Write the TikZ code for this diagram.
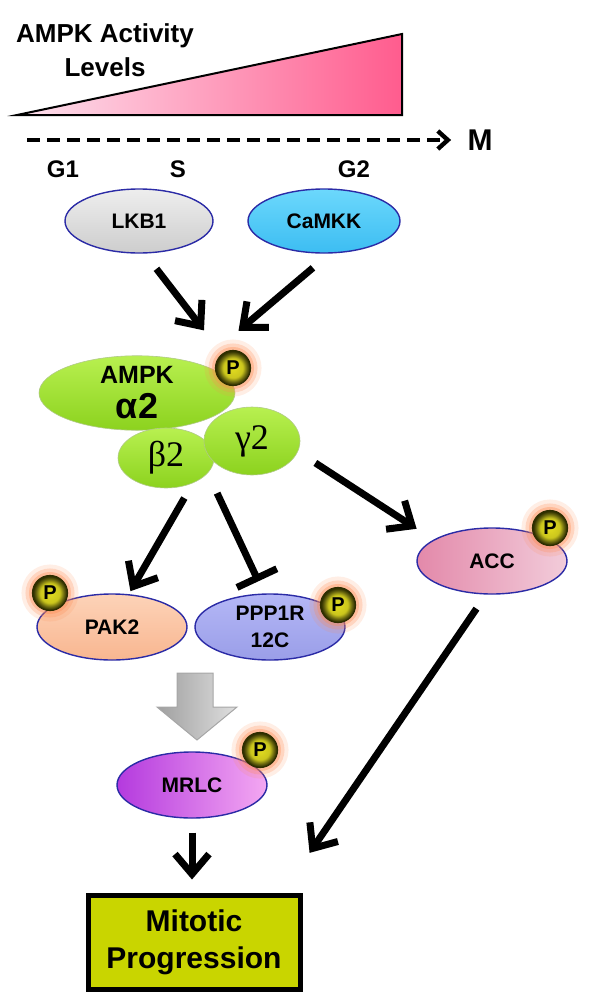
\documentclass[tikz,border=0pt]{standalone}
\usepackage{fontspec}
\setmainfont{Liberation Sans}
\newfontfamily\grkfont{Liberation Serif}
\usetikzlibrary{arrows.meta,shapes.geometric}

\definecolor{rimblue}{HTML}{2B2BA6}
\definecolor{lkbtop}{HTML}{EEEEEE}
\definecolor{lkbbot}{HTML}{CDCDCD}
\definecolor{camtop}{HTML}{6CD8FC}
\definecolor{cambot}{HTML}{3CBDF2}
\definecolor{ampktop}{HTML}{B8F050}
\definecolor{ampkbot}{HTML}{8CD21E}
\definecolor{paktop}{HTML}{FDD3B8}
\definecolor{pakbot}{HTML}{F8B690}
\definecolor{pptop}{HTML}{B4B7F6}
\definecolor{ppbot}{HTML}{9A9EE8}
\definecolor{accl}{HTML}{E389AA}
\definecolor{accr}{HTML}{F2CCDA}
\definecolor{mrl}{HTML}{B43ADE}
\definecolor{mrr}{HTML}{F4A8F2}
\definecolor{boxfill}{HTML}{C9D500}
\definecolor{triL}{HTML}{FDE2EE}
\definecolor{triR}{HTML}{FF5C8E}
\definecolor{pyel}{HTML}{E2DC20}
\definecolor{pdark}{HTML}{2E2E00}
\definecolor{glow}{HTML}{FF8A50}

% shading of the phospho balls
\pgfdeclareradialshading{pball}{\pgfpoint{0bp}{0bp}}{color(0bp)=(pyel); color(14bp)=(pyel!90!black); color(20bp)=(pyel!45!black); color(24bp)=(pdark); color(50bp)=(pdark)}

\begin{document}
\begin{tikzpicture}[x=0.5pt,y=-0.5pt,
	prot/.style={ellipse,draw=rimblue,line width=0.7pt,inner sep=0pt,align=center,
		minimum width=75pt,minimum height=33pt,font=\bfseries\fontsize{10.5}{13.5}\selectfont},
	sub/.style={ellipse,inner sep=0pt,top color=ampktop,bottom color=ampkbot,
		draw=ampkbot!70!black!50,line width=0.3pt},
	pnode/.style={circle,minimum size=17.5pt,inner sep=0pt,shading=pball,draw=pdark,line width=0.6pt,
		font=\bfseries\fontsize{10}{10}\selectfont,
		preaction={draw=glow,line width=11pt,draw opacity=0.15},
		preaction={draw=glow,line width=7pt,draw opacity=0.25},
		preaction={draw=glow,line width=3.5pt,draw opacity=0.35}},
	act/.style={line width=3.5pt,-{Straight Barb[length=10pt,width=17pt]}},
	inh/.style={line width=3.5pt,-{Bar[width=22pt]}},
	phase/.style={font=\bfseries\fontsize{12}{14}\selectfont}]
	\useasboundingbox (0,0) rectangle (600,1007);
	% activity ramp
	\shadedraw[left color=triL,right color=triR,draw=black,line width=1pt]
	(17,115) -- (402,34) -- (402,115) -- cycle;
	\node[align=center,font=\bfseries\fontsize{13}{17}\selectfont] (title) at (105,50) {AMPK Activity\\Levels};
	\coordinate (t0) at (27,140);
	\node[inner sep=0pt,font=\bfseries\fontsize{15}{15}\selectfont] (mph) at (480,140) {M};
	\draw[line width=2.2pt,dash pattern=on 6.5pt off 3.5pt,-{Straight Barb[length=5pt,width=9pt]},shorten >=8pt]
	(t0) -- (mph);
	\node[phase] (g1) at (63,169) {G1};
	\node[phase] (sph) at (178,169) {S};
	\node[phase] (g2ph) at (354,169) {G2};
	% upstream kinases
	\node[prot,minimum width=74pt,minimum height=32pt,top color=lkbtop,bottom color=lkbbot] (lkb1) at (139,221) {LKB1};
	\node[prot,minimum width=76pt,minimum height=32pt,top color=camtop,bottom color=cambot] (camkk) at (324,221) {CaMKK};
	% AMPK complex
	\node[sub,minimum width=98pt,minimum height=35pt,align=center] (ampk) at (137,393)
	{\bfseries\fontsize{12.5}{15}\selectfont AMPK\\[4pt]\bfseries\fontsize{18}{18}\selectfont α2};
	\node[sub,minimum width=48pt,minimum height=30pt] (b2) at (166,458) {\grkfont\fontsize{18}{18}\selectfont β2};
	\node[sub,minimum width=48pt,minimum height=34pt] (g2) at (252,441) {\grkfont\fontsize{18}{18}\selectfont γ2};
	\node[pnode] (pA) at (233,368) {P};
	% targets
	\node[prot,top color=paktop,bottom color=pakbot] (pak2) at (112,627) {PAK2};
	\node[prot,top color=pptop,bottom color=ppbot] (pp1r) at (270,627) {PPP1R\\12C};
	\node[prot,left color=accl,right color=accr] (acc) at (492,561) {ACC};
	\node[pnode] (pPak) at (50,593) {P};
	\node[pnode] (pPp) at (338,605) {P};
	\node[pnode] (pAcc) at (550,528) {P};
	% block arrow to MRLC
	\shadedraw[left color=gray!75,right color=gray!25,draw=gray!70,line width=0.5pt]
	(177,673) -- (213,673) -- (213,707) -- (237,707) -- (197,740) -- (157,707) -- (177,707) -- cycle;
	\node[prot,left color=mrl,right color=mrr] (mrlc) at (192,785) {MRLC};
	\node[pnode] (pMr) at (260,750) {P};
	\node[draw=black,line width=2.5pt,fill=boxfill,minimum width=106pt,minimum height=47pt,align=center,
	font=\bfseries\fontsize{15}{18.5}\selectfont] (mito) at (194,942) {Mitotic\\Progression};
	% connectors
	\draw[act,shorten <=9.6pt,shorten >=14.7pt] (lkb1.-80) -- (pA);
	\draw[act,shorten <=11pt,shorten >=25.7pt] (camkk.-80) -- (ampk.25);
	\draw[act,shorten <=8.6pt,shorten >=1.7pt] (b2.-43) -- (pak2.63);
	\draw[inh,shorten <=11pt,shorten >=6.7pt] (b2.-20) -- (pp1r.100);
	\draw[act,shorten <=10.4pt,shorten >=10pt] (g2.-13) -- (acc.160);
	\draw[act,shorten <=8.5pt,shorten >=24pt] (acc.-100) -- ([xshift=-10pt]mito.north east);
	\draw[act,shorten <=7pt,shorten >=6.5pt] (mrlc.south) -- (mrlc.south |- mito.north);
\end{tikzpicture}
\end{document}
